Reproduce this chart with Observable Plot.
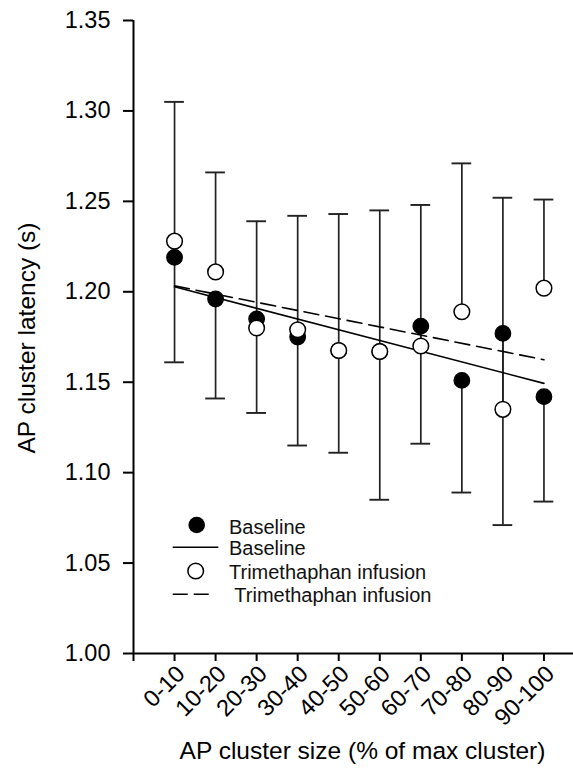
<!DOCTYPE html>
<html><head><meta charset="utf-8">
<script src="https://cdn.jsdelivr.net/npm/d3@7"></script>
<script src="https://cdn.jsdelivr.net/npm/@observablehq/plot@0.6"></script>
<style>
body{margin:0;background:#fff;}
#wrap{position:relative;width:573px;height:769px;font-family:"Liberation Sans",Arial,sans-serif;}
#legend{position:absolute;left:0;top:0;pointer-events:none;}
</style></head><body><div id="wrap"></div>
<script>
const categories = ["0-10","10-20","20-30","30-40","40-50","50-60","60-70","70-80","80-90","90-100"];
const baseline = [1.219, 1.196, 1.185, 1.175, 1.1675, 1.167, 1.181, 1.151, 1.177, 1.142];
const baselineLower = [1.161, 1.141, 1.133, 1.115, 1.111, 1.085, 1.116, 1.089, 1.071, 1.084];
const trimethaphan = [1.228, 1.211, 1.180, 1.179, 1.1675, 1.167, 1.170, 1.189, 1.135, 1.202];
const trimethaphanUpper = [1.305, 1.266, 1.239, 1.242, 1.243, 1.245, 1.248, 1.271, 1.252, 1.251];
const yTicks = [1.00, 1.05, 1.10, 1.15, 1.20, 1.25, 1.30, 1.35];
const legendLabels = ["Baseline", "Baseline", "Trimethaphan infusion", "Trimethaphan infusion"];

const rows = categories.map((c, i) => ({
  cat: c, pos: i + 1,
  baseline: baseline[i], baselineLower: baselineLower[i],
  trim: trimethaphan[i], trimUpper: trimethaphanUpper[i]
}));
const capHalf = 0.24;

const chart = Plot.plot({
  width: 573, height: 769,
  marginTop: 20, marginBottom: 116, marginLeft: 133, marginRight: 0,
  style: {fontFamily: "Liberation Sans, Arial, sans-serif", color: "#000", background: "#fff"},
  x: {domain: [0, 10.72]},
  y: {domain: [1.0, 1.35]},
  marks: [
    Plot.ruleX([0], {stroke: "#000", strokeWidth: 2}),
    Plot.ruleY([1.0], {stroke: "#000", strokeWidth: 2}),
    Plot.axisY({ticks: yTicks, tickSize: 10, tickPadding: 13, tickFormat: d3.format(".2f"), fontSize: 23.5, label: null, strokeWidth: 2}),
    Plot.axisX({ticks: d3.range(0, categories.length + 1), tickSize: 8, tickFormat: () => "", label: null, strokeWidth: 2}),
    Plot.text(rows, {x: "pos", text: "cat", frameAnchor: "bottom", rotate: -45, textAnchor: "end", lineAnchor: "middle", dx: 6.5, dy: 16.5, fontSize: 23.5}),
    Plot.text(["AP cluster size (% of max cluster)"], {frameAnchor: "bottom", text: d => d, textAnchor: "middle", dx: 9, dy: 97.6, fontSize: 24.5, lineAnchor: "middle"}),
    Plot.text(["AP cluster latency (s)"], {frameAnchor: "left", text: d => d, textAnchor: "middle", rotate: -90, dx: -106.7, dy: 1, fontSize: 24.5, lineAnchor: "middle"}),
    Plot.ruleX(rows, {x: "pos", y1: "trim", y2: "trimUpper", stroke: "#222", strokeWidth: 1.7}),
    Plot.ruleY(rows, {y: "trimUpper", x1: d => d.pos - capHalf, x2: d => d.pos + capHalf, stroke: "#222", strokeWidth: 1.9}),
    Plot.ruleX(rows, {x: "pos", y1: "baselineLower", y2: "baseline", stroke: "#222", strokeWidth: 1.7}),
    Plot.ruleY(rows, {y: "baselineLower", x1: d => d.pos - capHalf, x2: d => d.pos + capHalf, stroke: "#222", strokeWidth: 1.9}),
    Plot.linearRegressionY(rows, {x: "pos", y: "baseline", ci: 0, stroke: "#000", strokeWidth: 1.6}),
    Plot.linearRegressionY(rows, {x: "pos", y: "trim", ci: 0, stroke: "#000", strokeWidth: 1.6, strokeDasharray: "15,7"}),
    Plot.dot(rows, {x: "pos", y: "baseline", r: 7.8, fill: "#000", stroke: "#000", strokeWidth: 1.2}),
    Plot.dot(rows, {x: "pos", y: "trim", r: 7.8, fill: "#fff", stroke: "#000", strokeWidth: 1.5})
  ]
});
const wrap = document.getElementById("wrap");
wrap.appendChild(chart);

const ns = "http://www.w3.org/2000/svg";
const leg = document.createElementNS(ns, "svg");
leg.setAttribute("id", "legend");
leg.setAttribute("width", 573);
leg.setAttribute("height", 769);
leg.innerHTML = `
  <circle cx="196.7" cy="525" r="8.3" fill="#000"/>
  <line x1="172.7" x2="218.3" y1="547.3" y2="547.3" stroke="#000" stroke-width="1.6"/>
  <circle cx="195.7" cy="571" r="7.8" fill="#fff" stroke="#000" stroke-width="1.5"/>
  <line x1="172.7" x2="212.7" y1="594.3" y2="594.3" stroke="#000" stroke-width="1.6" stroke-dasharray="15,6"/>
`;
const legPos = [[229, 533.9], [229, 555.2], [229, 578.9], [234.3, 602.2]];
legendLabels.forEach((t, i) => {
  const el = document.createElementNS(ns, "text");
  el.setAttribute("x", legPos[i][0]);
  el.setAttribute("y", legPos[i][1]);
  el.setAttribute("font-size", 20);
  el.setAttribute("font-family", "Liberation Sans, Arial, sans-serif");
  el.setAttribute("fill", "#111");
  el.textContent = t;
  leg.appendChild(el);
});
wrap.appendChild(leg);
</script></body></html>
